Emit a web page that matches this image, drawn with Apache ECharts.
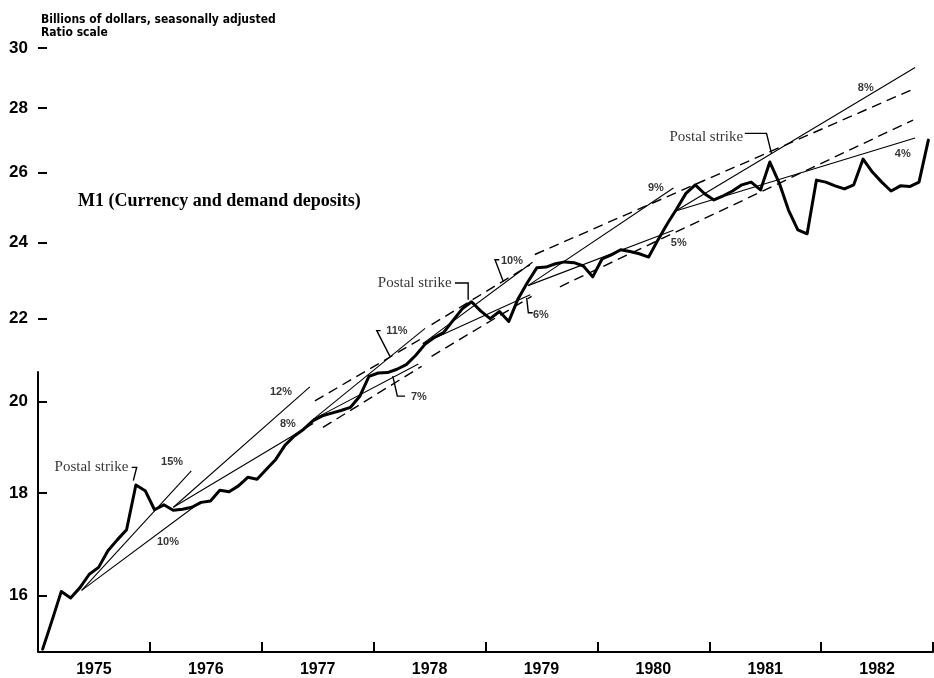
<!DOCTYPE html>
<html>
<head>
<meta charset="utf-8">
<script src="https://cdn.jsdelivr.net/npm/echarts@6/dist/echarts.min.js"></script>
<style>
  html, body { margin: 0; padding: 0; background: #ffffff; }
  #chart { width: 934px; height: 678px; }
</style>
</head>
<body>
<div id="chart"></div>
<script>
// M1 (currency and demand deposits), monthly, billions of dollars, seasonally adjusted
const firstYear = 1975;
const years = ['1975', '1976', '1977', '1978', '1979', '1980', '1981', '1982'];
const yTicks = [16, 18, 20, 22, 24, 26, 28, 30];

const m1 = [
  15.05, 15.55, 16.08, 15.96, 16.15, 16.40, 16.53, 16.85, 17.06, 17.26, 18.17, 18.05,
  17.66, 17.76, 17.65, 17.67, 17.71, 17.81, 17.84, 18.06, 18.03, 18.15, 18.33, 18.29,
  18.50, 18.71, 19.02, 19.22, 19.37, 19.56, 19.67, 19.73, 19.79, 19.86, 20.11, 20.58,
  20.66, 20.67, 20.75, 20.86, 21.08, 21.35, 21.52, 21.64, 21.94, 22.24, 22.42, 22.18,
  21.99, 22.17, 21.92, 22.50, 22.92, 23.31, 23.33, 23.42, 23.47, 23.45, 23.36, 23.07,
  23.55, 23.66, 23.80, 23.75, 23.69, 23.60, 24.07, 24.52, 24.94, 25.39, 25.64, 25.38,
  25.20, 25.32, 25.46, 25.64, 25.72, 25.49, 26.32, 25.70, 24.91, 24.35, 24.24, 25.78,
  25.72, 25.61, 25.52, 25.64, 26.41, 26.02, 25.72, 25.46, 25.61, 25.59, 25.72, 26.99
];

// Target-range growth lines: base date, base level, end date, annual growth rate (%)
const coneStart = [1975.39, 1975.39, 1976.21, 1976.21, 1977.46, 1977.46, 1978.44, 1978.44, 1979.38, 1979.38, 1980.70, 1980.70];
const coneLevel = [16.10, 16.10, 17.71, 17.71, 19.59, 19.59, 21.37, 21.37, 22.84, 22.84, 24.88, 24.88];
const coneEnd   = [1976.37, 1976.45, 1977.43, 1977.46, 1978.46, 1978.40, 1979.42, 1979.40, 1980.68, 1980.68, 1982.84, 1982.84];
const coneRate  = [15, 10, 12, 8, 11, 7, 10, 6, 9, 5, 8, 4];

// Where each rate label sits (date, level)
const coneLabelAt = [
  [1976.198, 18.65], [1976.162, 17.02], [1977.172, 20.21], [1977.234, 19.48],
  [1978.208, 21.69], [1978.405, 20.09], [1979.236, 23.50], [1979.495, 22.09],
  [1980.523, 25.55], [1980.728, 23.99], [1982.399, 28.65], [1982.730, 26.57]
];

// Leader ticks joining some rate labels to their lines
const labelLeaders = [
  [[1978.063, 21.69], [1978.028, 21.69], [1978.146, 21.06]],
  [[1978.171, 20.59], [1978.212, 20.12], [1978.281, 20.12]],
  [[1979.123, 23.53], [1979.085, 23.53], [1979.159, 22.95]],
  [[1979.368, 22.52], [1979.383, 22.14], [1979.422, 22.14]]
];

// Dashed range lines (start, end)
const rangeLines = [
  [[1977.475, 20.01], [1978.414, 21.47]],
  [[1977.547, 19.41], [1978.429, 20.82]],
  [[1978.518, 21.84], [1979.397, 23.39]],
  [[1978.518, 21.06], [1979.412, 22.56]],
  [[1979.441, 23.67], [1982.837, 28.64]],
  [[1979.665, 22.81], [1982.822, 27.62]]
];

// Postal strike notes: text anchor and leader
const strikeText = 'Postal strike';
const strikeAt = [[1975.807, 18.55], [1978.697, 22.92], [1981.303, 27.10]];
const strikeLeaders = [
  [[1975.837, 18.54], [1975.882, 18.54], [1975.852, 18.26]],
  [[1978.727, 22.91], [1978.845, 22.91], [1978.845, 22.47]],
  [[1981.318, 27.20], [1981.512, 27.20], [1981.557, 26.57]]
];

const numFont = '"Liberation Sans", Arial, sans-serif';
const serifFont = '"Liberation Serif", "Times New Roman", serif';

const m1Points = m1.map((v, i) => [firstYear + (i + 0.5) / 12, v]);
const coneSegments = coneRate.map((r, i) => ({
  coords: [
    [coneStart[i], coneLevel[i]],
    [coneEnd[i], coneLevel[i] * Math.pow(1 + r / 100, coneEnd[i] - coneStart[i])]
  ]
}));
const yearTicks = years.map((y, i) => firstYear + i + 1);
const yearMid = years.map((y, i) => firstYear + i + 0.5);

const chart = echarts.init(document.getElementById('chart'), null, { renderer: 'canvas' });

chart.setOption({
  animation: false,
  backgroundColor: '#ffffff',
  grid: { left: 38, right: 1, top: 48, bottom: 24, containLabel: false },
  xAxis: {
    type: 'value',
    min: firstYear,
    max: firstYear + years.length,
    axisLine: { show: true, lineStyle: { color: '#000', width: 2 } },
    axisTick: { show: true, inside: true, length: 10, lineStyle: { color: '#000', width: 2 }, customValues: yearTicks },
    axisLabel: {
      customValues: yearMid,
      formatter: v => years[Math.floor(v) - firstYear],
      color: '#000', fontSize: 16, fontWeight: 'bold', fontFamily: numFont, margin: 10
    },
    splitLine: { show: false }
  },
  yAxis: {
    type: 'log',
    logBase: 10,
    min: 15,
    max: 30,
    axisLine: { show: false },
    axisTick: { show: true, inside: true, length: 9, lineStyle: { color: '#000', width: 2 }, customValues: yTicks },
    axisLabel: {
      customValues: yTicks,
      formatter: v => String(Math.round(v)),
      color: '#000', fontSize: 17, fontWeight: 'bold', fontFamily: numFont, margin: 10
    },
    splitLine: { show: false },
    minorTick: { show: false }
  },
  graphic: [
    {
      type: 'text', left: 41, top: 13,
      style: {
        text: 'Billions of dollars, seasonally adjusted\nRatio scale',
        font: 'bold 12px "Liberation Sans Narrow", "DejaVu Sans Condensed", sans-serif',
        lineHeight: 13, fill: '#000'
      }
    },
    {
      type: 'text', left: 78, top: 192,
      style: {
        text: 'M1 (Currency and demand deposits)',
        font: 'bold 18px ' + serifFont,
        fill: '#000'
      }
    }
  ],
  series: [
    {
      // lower part of the vertical axis rule
      type: 'line', silent: true, clip: false, symbol: 'none',
      data: [[firstYear, 15], [firstYear, 20.7]],
      lineStyle: { color: '#000', width: 2 }
    },
    {
      type: 'lines', coordinateSystem: 'cartesian2d', silent: true, z: 3,
      data: coneSegments,
      lineStyle: { color: '#000', width: 1.1, opacity: 1 }
    },
    {
      type: 'lines', coordinateSystem: 'cartesian2d', silent: true, z: 3,
      data: rangeLines.map(c => ({ coords: c })),
      lineStyle: { color: '#000', width: 1.4, type: [10, 6], opacity: 1 }
    },
    {
      type: 'lines', coordinateSystem: 'cartesian2d', polyline: true, silent: true, z: 3,
      data: labelLeaders.concat(strikeLeaders).map(c => ({ coords: c })),
      lineStyle: { color: '#000', width: 1.4, opacity: 1 }
    },
    {
      name: 'M1', type: 'line', symbol: 'none', z: 5,
      data: m1Points,
      lineStyle: { color: '#000', width: 3, join: 'round', cap: 'round' }
    },
    {
      type: 'scatter', silent: true, symbolSize: 0, z: 6,
      data: coneLabelAt.map((p, i) => ({ value: p, name: coneRate[i] + '%' })),
      label: {
        show: true, position: 'inside', formatter: '{b}',
        color: '#000', fontSize: 11, fontWeight: 'bold', fontFamily: numFont
      }
    },
    {
      type: 'scatter', silent: true, symbolSize: 0, z: 6,
      data: strikeAt.map(p => ({ value: p, name: strikeText })),
      label: {
        show: true, position: 'left', distance: 0, formatter: '{b}',
        color: '#000', fontSize: 15, fontFamily: serifFont
      }
    }
  ]
});
</script>
</body>
</html>
